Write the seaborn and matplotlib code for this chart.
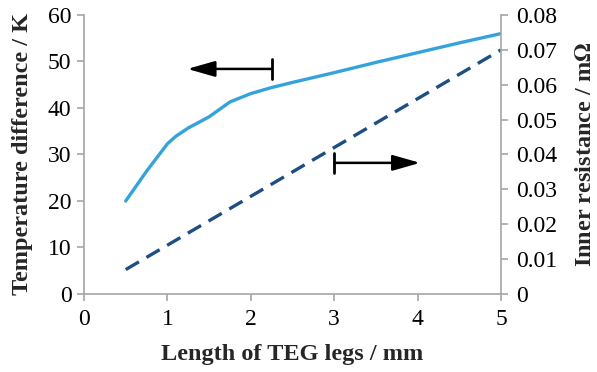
import matplotlib
matplotlib.use("Agg")
import matplotlib.pyplot as plt
import seaborn as sns
import pandas as pd

# === data ===
# temperature difference curve (left axis)
LEN_T = [0.5, 0.75, 1.0, 1.1, 1.25, 1.5, 1.75, 2.0, 2.25, 2.5, 3.0, 3.5, 4.0, 4.5, 5.0]   # mm
TEMP_DIFF = [20.0, 26.4, 32.3, 33.9, 35.7, 38.1, 41.3, 43.1, 44.4, 45.5, 47.6, 49.8, 51.9, 54.0, 56.0]  # K
# inner resistance curve (right axis)
LEN_R = [0.5, 1.0, 1.5, 2.0, 2.5, 3.0, 3.5, 4.0, 4.5, 5.0]
INNER_RES = [0.007, 0.014, 0.021, 0.028, 0.035, 0.042, 0.049, 0.056, 0.063, 0.070]  # mOhm

X_TICKS = [0, 1, 2, 3, 4, 5]
Y_LEFT_TICKS = [0, 10, 20, 30, 40, 50, 60]
Y_RIGHT_TICKS = [0, 0.01, 0.02, 0.03, 0.04, 0.05, 0.06, 0.07, 0.08]
Y_RIGHT_LABELS = ["0", "0.01", "0.02", "0.03", "0.04", "0.05", "0.06", "0.07", "0.08"]

df_t = pd.DataFrame({"L": LEN_T, "dT": TEMP_DIFF})
df_r = pd.DataFrame({"L": LEN_R, "R": INNER_RES})

# === style ===
sns.set_theme(style="white")
plt.rcParams["font.family"] = ["Liberation Serif", "DejaVu Serif"]
plt.rcParams["mathtext.fontset"] = "stix"

AXIS_GRAY = "#a6a6a6"
LIGHT_BLUE = "#34a3dc"
DARK_BLUE = "#1f4e82"
FS_TICK = 17
FS_LABEL = 17.5

fig = plt.figure(figsize=(5.97, 3.72), dpi=100)
ax = fig.add_axes([0.1407, 0.2097, 0.6985, 0.7500])
ax2 = ax.twinx()

sns.lineplot(data=df_t, x="L", y="dT", ax=ax, color=LIGHT_BLUE, lw=2.4)
sns.lineplot(data=df_r, x="L", y="R", ax=ax2, color=DARK_BLUE, lw=2.4,
             dashes=False, linestyle=(0, (4.6, 2.6)))

ax.set_xlim(0, 5)
ax.set_ylim(0, 60)
ax2.set_ylim(0, 0.08)
ax.set_xticks(X_TICKS)
ax.set_yticks(Y_LEFT_TICKS)
ax2.set_yticks(Y_RIGHT_TICKS)
ax2.set_yticklabels(Y_RIGHT_LABELS)

for a in (ax, ax2):
    a.grid(False)
    a.spines["top"].set_visible(False)
    for s in ("left", "right", "bottom"):
        a.spines[s].set_color(AXIS_GRAY)
        a.spines[s].set_linewidth(1.2)
    a.tick_params(axis="both", colors=AXIS_GRAY, labelcolor="black",
                  labelsize=FS_TICK, length=5, width=1.2, direction="out", pad=5)
ax2.spines["left"].set_visible(False)
ax2.spines["bottom"].set_visible(False)
ax.spines["right"].set_visible(False)
ax.tick_params(axis="x", bottom=True, pad=6)
ax.tick_params(axis="y", left=True, pad=4)
ax2.tick_params(axis="y", right=True, pad=6)

ax.set_xlabel("Length of TEG legs / mm", fontsize=FS_LABEL, fontweight="bold", labelpad=10)
ax.set_ylabel("Temperature difference / K", fontsize=FS_LABEL, fontweight="bold", labelpad=11)
ax2.set_ylabel(r"Inner resistance / m$\mathbf{\Omega}$", fontsize=FS_LABEL, fontweight="bold", labelpad=13)

# pointer arrows: which axis each curve belongs to
arrow_kw = dict(arrowstyle="-|>,head_length=1.4,head_width=0.4", color="black",
                lw=1.8, shrinkA=0, shrinkB=0)
ax.annotate("", xy=(1.24, 48.4), xytext=(2.25, 48.4), arrowprops=arrow_kw)
ax.plot([2.25, 2.25], [46.3, 50.6], color="black", lw=2.0)
ax.annotate("", xy=(4.03, 28.2), xytext=(3.0, 28.2), arrowprops=arrow_kw)
ax.plot([3.0, 3.0], [26.0, 30.3], color="black", lw=2.0)

fig.savefig("out.png", dpi=100)
